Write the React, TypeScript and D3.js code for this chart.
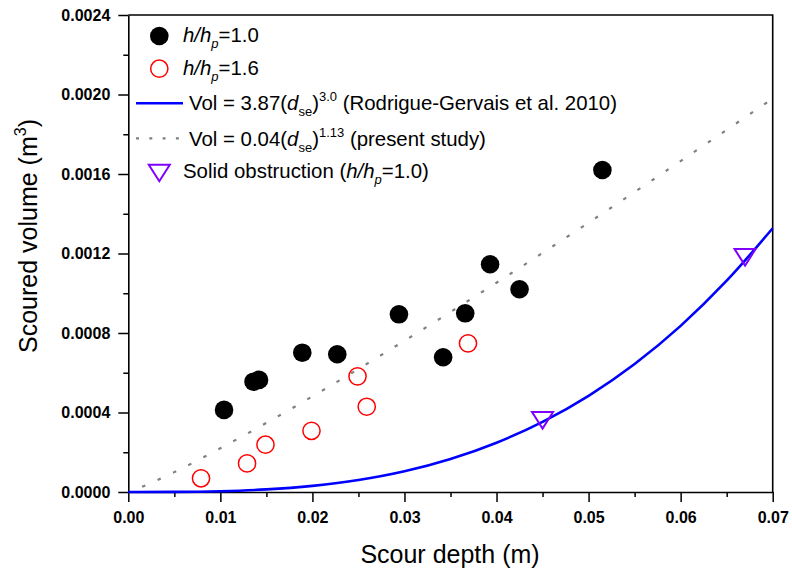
import React, { useEffect, useRef } from "react";
import * as d3 from "d3";

const W = 792;
const H = 571;
const FONT = "'Liberation Sans', Arial, sans-serif";

// h/hp = 1.0 (filled circles)
const depth10 = [0.0104, 0.0136, 0.0142, 0.0189, 0.0227, 0.0294, 0.0342, 0.0366, 0.0393, 0.0425, 0.0515];
const vol10 = [0.000413, 0.000555, 0.000564, 0.000701, 0.000693, 0.000894, 0.000678, 0.000899, 0.001146, 0.00102, 0.00162];

// h/hp = 1.6 (open circles)
const depth16 = [0.0079, 0.0129, 0.0149, 0.0199, 0.0249, 0.0259, 0.0369];
const vol16 = [0.000069, 0.000144, 0.000238, 0.000308, 0.000582, 0.000429, 0.000748];

// solid obstruction
const depthSolid = [0.045, 0.067];
const volSolid = [0.000362, 0.001182];

// Rodrigue-Gervais et al. 2010 curve
const rgDepth = [0, 0.005, 0.01, 0.015, 0.02, 0.025, 0.03, 0.035, 0.04, 0.045, 0.05, 0.055, 0.06, 0.065, 0.07];
const rgVol = [0, 0.0000005, 0.0000039, 0.000013, 0.000031, 0.00006, 0.000104, 0.000166, 0.000248, 0.000353, 0.000484, 0.000644, 0.000836, 0.001063, 0.001327];

// present study curve
const psDepth = [0.0015, 0.005, 0.01, 0.02, 0.03, 0.04, 0.05, 0.06, 0.07];
const psVol = [0.000026, 0.0001, 0.00022, 0.000481, 0.000761, 0.001053, 0.001355, 0.001665, 0.00198];

const xTicks = [0, 0.01, 0.02, 0.03, 0.04, 0.05, 0.06, 0.07];
const yTicks = [0, 0.0004, 0.0008, 0.0012, 0.0016, 0.002, 0.0024];

const x = d3.scaleLinear().domain([0, 0.07]).range([128.3, 772.7]);
const y = d3.scaleLinear().domain([0, 0.0024]).range([492, 15]);

const BLUE = "#0000ff";
const PURPLE = "#8000ff";

const triPath = (cx, cy) => `M${cx - 10.5},${cy - 8} L${cx + 10.5},${cy - 8} L${cx},${cy + 8.5} Z`;

export default function App() {
  const gRef = useRef(null);

  useEffect(() => {
    const g = d3.select(gRef.current);
    g.selectAll("*").remove();

    // minor ticks
    const xMinor = xTicks.slice(0, -1).map((t) => t + 0.005);
    const yMinor = yTicks.slice(0, -1).map((t) => t + 0.0002);

    g.append("g")
      .attr("transform", `translate(0,${y(0)})`)
      .call(d3.axisBottom(x).tickValues(xMinor).tickSize(5).tickSizeOuter(0).tickFormat(() => ""))
      .call((a) => a.select(".domain").remove());
    g.append("g")
      .attr("transform", `translate(${x(0)},0)`)
      .call(d3.axisLeft(y).tickValues(yMinor).tickSize(5).tickSizeOuter(0).tickFormat(() => ""))
      .call((a) => a.select(".domain").remove());

    const xAxis = g
      .append("g")
      .attr("transform", `translate(0,${y(0)})`)
      .call(d3.axisBottom(x).tickValues(xTicks).tickSize(10).tickSizeOuter(0).tickPadding(10).tickFormat(d3.format(".2f")));
    const yAxis = g
      .append("g")
      .attr("transform", `translate(${x(0)},0)`)
      .call(d3.axisLeft(y).tickValues(yTicks).tickSize(10).tickSizeOuter(0).tickPadding(8).tickFormat(d3.format(".4f")));

    [xAxis, yAxis].forEach((a) => {
      a.selectAll("text")
        .attr("fill", "#000")
        .style("font-family", FONT)
        .style("font-size", "16px")
        .style("font-weight", "bold");
    });
    g.selectAll(".tick line").attr("stroke", "#000").attr("stroke-width", 1.5);
    g.selectAll(".domain").attr("stroke", "#000").attr("stroke-width", 1.6);

    // frame top and right
    g.append("path")
      .attr("d", `M${x(0)},${y(0.0024)} H${x(0.07)} V${y(0)}`)
      .attr("fill", "none")
      .attr("stroke", "#000")
      .attr("stroke-width", 1.6);

    // present study dotted line
    g.append("path")
      .datum(psDepth.map((d, i) => [d, psVol[i]]))
      .attr("d", d3.line().x((d) => x(d[0])).y((d) => y(d[1])).curve(d3.curveMonotoneX))
      .attr("fill", "none")
      .attr("stroke", "#808080")
      .attr("stroke-width", 2.2)
      .attr("stroke-dasharray", "3.5,13.5");

    // Rodrigue-Gervais curve
    g.append("path")
      .datum(rgDepth.map((d, i) => [d, rgVol[i]]))
      .attr("d", d3.line().x((d) => x(d[0])).y((d) => y(d[1])).curve(d3.curveMonotoneX))
      .attr("fill", "none")
      .attr("stroke", BLUE)
      .attr("stroke-width", 2.6);

    // h/hp = 1.0
    g.append("g")
      .selectAll("circle")
      .data(depth10.map((d, i) => [d, vol10[i]]))
      .enter()
      .append("circle")
      .attr("cx", (d) => x(d[0]))
      .attr("cy", (d) => y(d[1]))
      .attr("r", 9.3)
      .attr("fill", "#000");

    // h/hp = 1.6
    g.append("g")
      .selectAll("circle")
      .data(depth16.map((d, i) => [d, vol16[i]]))
      .enter()
      .append("circle")
      .attr("cx", (d) => x(d[0]))
      .attr("cy", (d) => y(d[1]))
      .attr("r", 8.6)
      .attr("fill", "none")
      .attr("stroke", "#ff0000")
      .attr("stroke-width", 1.5);

    // solid obstruction
    g.append("g")
      .selectAll("path")
      .data(depthSolid.map((d, i) => [d, volSolid[i]]))
      .enter()
      .append("path")
      .attr("d", (d) => triPath(x(d[0]), y(d[1])))
      .attr("fill", "none")
      .attr("stroke", PURPLE)
      .attr("stroke-width", 2);
  }, []);

  const sub = { fontSize: 13 };
  return (
    <svg
      width={W}
      height={H}
      style={{ position: "absolute", left: 0, top: 0, background: "#fff" }}
      fontFamily={FONT}
    >
      <g ref={gRef} />

      {/* axis titles */}
      <text x={450} y={563} textAnchor="middle" fontSize={25} fill="#000">
        Scour depth (m)
      </text>
      <text transform="translate(37,236) rotate(-90)" textAnchor="middle" fontSize={25} fill="#000">
        Scoured volume (m<tspan dy={-11} fontSize={16}>3</tspan>
        <tspan dy={11}>)</tspan>
      </text>

      {/* legend */}
      <g fontSize={20.4} fill="#000">
        <circle cx={159.3} cy={36} r={9.3} fill="#000" />
        <text x={183} y={42}>
          <tspan fontStyle="italic">h/h</tspan>
          <tspan dy={6} style={sub} fontStyle="italic">p</tspan>
          <tspan dy={-6}>=1.0</tspan>
        </text>

        <circle cx={159.3} cy={68.7} r={8.6} fill="none" stroke="#ff0000" strokeWidth={1.5} />
        <text x={183} y={74.5}>
          <tspan fontStyle="italic">h/h</tspan>
          <tspan dy={6} style={sub} fontStyle="italic">p</tspan>
          <tspan dy={-6}>=1.6</tspan>
        </text>

        <line x1={136} x2={183} y1={103.3} y2={103.3} stroke={BLUE} strokeWidth={2.6} />
        <text x={189} y={110}>
          Vol = 3.87(<tspan fontStyle="italic">d</tspan>
          <tspan dy={6} style={sub}>se</tspan>
          <tspan dy={-6}>)</tspan>
          <tspan dy={-9} style={sub}>3.0</tspan>
          <tspan dy={9}> (Rodrigue-Gervais et al. 2010)</tspan>
        </text>

        <line x1={136} x2={185} y1={138.3} y2={138.3} stroke="#808080" strokeWidth={2.2} strokeDasharray="3,10.3" />
        <text x={189} y={146}>
          Vol = 0.04(<tspan fontStyle="italic">d</tspan>
          <tspan dy={6} style={sub}>se</tspan>
          <tspan dy={-6}>)</tspan>
          <tspan dy={-9} style={sub}>1.13</tspan>
          <tspan dy={9}> (present study)</tspan>
        </text>

        <path d={triPath(159.3, 172.7)} fill="none" stroke={PURPLE} strokeWidth={2} />
        <text x={183} y={178.3}>
          Solid obstruction (<tspan fontStyle="italic">h/h</tspan>
          <tspan dy={6} style={sub} fontStyle="italic">p</tspan>
          <tspan dy={-6}>=1.0)</tspan>
        </text>
      </g>
    </svg>
  );
}
